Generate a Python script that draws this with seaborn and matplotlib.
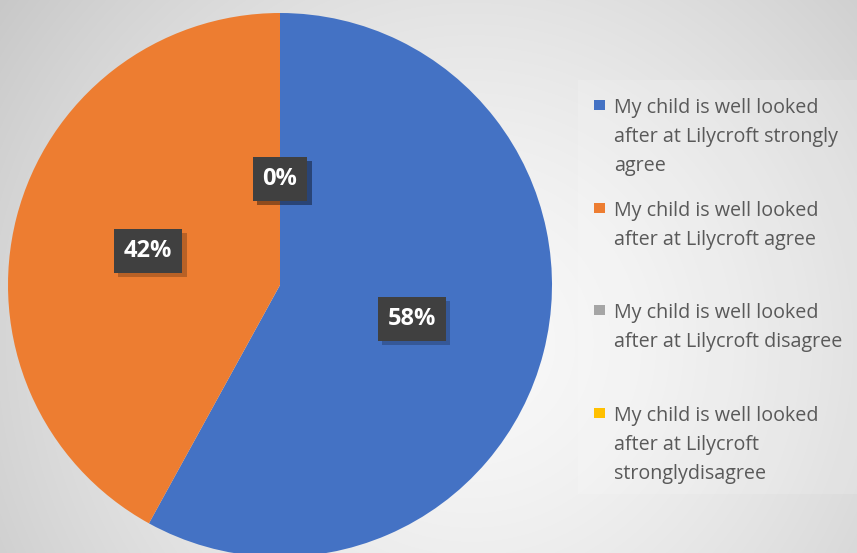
import numpy as np
import matplotlib
matplotlib.use("Agg")
import matplotlib.pyplot as plt
import matplotlib.patheffects as pe
from matplotlib.patches import Rectangle
import seaborn as sns

# =========================
# Datos del gráfico
# =========================
categorias = [
    "My child is well looked\nafter at Lilycroft strongly\nagree",
    "My child is well looked\nafter at Lilycroft agree",
    "My child is well looked\nafter at Lilycroft disagree",
    "My child is well looked\nafter at Lilycroft\nstronglydisagree",
]
porcentajes = [58, 42, 0, 0]
colores = ["#4472C4", "#ED7D31", "#A5A5A5", "#FFC000"]

sns.set_theme(style="white")
plt.rcParams['font.family'] = ['Open Sans', 'DejaVu Sans']

W, H = 857, 553
fig = plt.figure(figsize=(W / 100, H / 100), dpi=100)

# Fondo con degradado radial (estilo Excel)
bg = fig.add_axes([0, 0, 1, 1], zorder=0)
yy, xx = np.mgrid[0:H, 0:W]
r = np.hypot(xx - W * 0.55, yy - H * 0.62)
r = r / r.max()
g = 0.975 - 0.19 * r ** 1.5
bg.imshow(np.dstack([g, g, g]), aspect='auto', interpolation='bilinear')
bg.axis('off')

# Zona de la leyenda algo más clara
fig.add_artist(Rectangle((578 / W, (H - 494) / H), (W - 578) / W, (494 - 80) / H,
                         transform=fig.transFigure, facecolor='white', alpha=0.15,
                         linewidth=0, zorder=0.5))

# Pastel
cx, cy, rad = 280, 285, 272
ax = fig.add_axes([(cx - rad) / W, (H - cy - rad) / H, 2 * rad / W, 2 * rad / H], zorder=1)
wedges, _ = ax.pie(porcentajes, colors=colores, startangle=90, counterclock=False,
                   radius=1, wedgeprops=dict(linewidth=0))
ax.set_xlim(-1, 1)
ax.set_ylim(-1, 1)
ax.axis('off')

# Etiquetas de porcentaje en cajas oscuras con sombra
for w, v in zip(wedges, porcentajes):
    ang = np.deg2rad((w.theta1 + w.theta2) / 2)
    d = 0.5 if v > 0 else 0.39
    t = ax.text(d * np.cos(ang), d * np.sin(ang), f"{v:.0f}%", ha='center', va='center',
                fontsize=17, fontweight='bold', color='white', zorder=4,
                bbox=dict(boxstyle='square,pad=0.42', facecolor='#404040', linewidth=0))
    t.get_bbox_patch().set_path_effects([
        pe.SimplePatchShadow(offset=(3, -3), shadow_rgbFace='black', alpha=0.22),
        pe.Normal()])

# Leyenda manual (entradas espaciadas como en Excel)
y0, paso = 105, 102.7
for i, (lab, col) in enumerate(zip(categorias, colores)):
    yc = y0 + i * paso
    fig.add_artist(Rectangle((594 / W, 1 - (yc + 5) / H), 11 / W, 10 / H,
                             transform=fig.transFigure, facecolor=col, linewidth=0, zorder=2))
    fig.text(614 / W, 1 - (yc - 7) / H, lab, va='top', ha='left', fontsize=14.2,
             color='#595959', linespacing=1.6, zorder=2)

fig.savefig('out.png', dpi=100)
